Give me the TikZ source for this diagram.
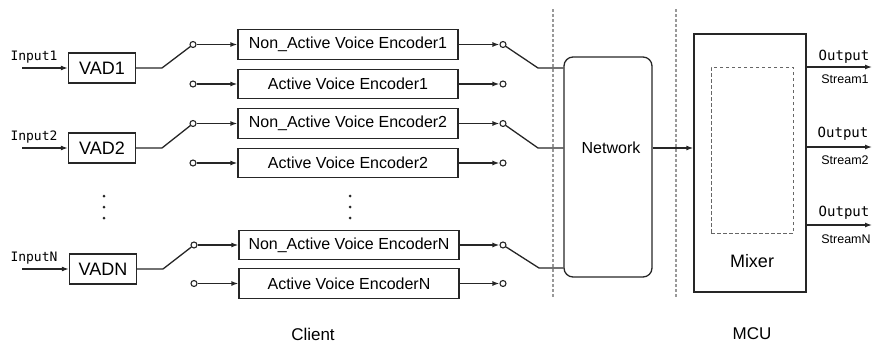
\documentclass[tikz,border=0pt]{standalone}
\usepackage{fontspec}
\setmainfont{Liberation Sans}
\newfontfamily\monofont{DejaVu Sans Mono}
\usetikzlibrary{arrows.meta,calc}

\tikzset{
  ln/.style={line width=1.3pt, draw=black!85},
  arr/.style={ln, -{Latex[length=7pt,width=5pt]}},
  vadbox/.style={ln, rectangle, minimum width=67pt, minimum height=30pt, inner sep=0pt, font=\fontsize{18}{20}\selectfont},
  encbox/.style={ln, rectangle, minimum width=220pt, minimum height=29.5pt, inner sep=0pt, font=\fontsize{16}{18}\selectfont},
  sw/.style={ln, circle, line width=1.1pt, minimum size=6pt, inner sep=0pt, fill=white},
  sep/.style={draw=black!40, line width=1.1pt, dash pattern=on 3pt off 2pt},
  inlbl/.style={inner sep=0pt, font=\monofont\fontsize{13}{14}\selectfont},
  outlbl/.style={inner sep=0pt, font=\monofont\fontsize{14}{15}\selectfont},
  strlbl/.style={inner sep=0pt, font=\fontsize{12.5}{14}\selectfont},
  dot/.style={circle, fill=black!85, minimum size=3pt, inner sep=0pt},
  captxt/.style={inner sep=0pt, font=\fontsize{17}{19}\selectfont}
}

\begin{document}
\begin{tikzpicture}[x=1pt,y=-1pt]
\useasboundingbox (0,0) rectangle (876,343);

% section separators
\draw[sep] (553,9) -- (553,297);
\draw[sep] (676,9) -- (676,297);

% VAD units with their inputs
\node[vadbox] (vad1) at (102,68) {VAD1};
\node[vadbox] (vad2) at (102,148) {VAD2};
\node[vadbox] (vadn) at (103,269) {VADN};

\coordinate (in1) at (22,68);
\coordinate (in2) at (22,148);
\coordinate (inn) at (22,269);
\draw[arr] (in1) -- (vad1.west);
\draw[arr] (in2) -- (vad2.west);
\draw[arr] (inn) -- (vadn.west);
\node[inlbl] (lin1) at (34,57) {Input1};
\node[inlbl] (lin2) at (34,137) {Input2};
\node[inlbl] (linn) at (34,258) {InputN};

% encoders
\node[encbox] (na1) at (348,44.5) {Non\_Active Voice Encoder1};
\node[encbox] (ac1) at (348,84) {Active Voice Encoder1};
\node[encbox] (na2) at (348,123.5) {Non\_Active Voice Encoder2};
\node[encbox] (ac2) at (348,163) {Active Voice Encoder2};
\node[encbox] (nan) at (349,245) {Non\_Active Voice EncoderN};
\node[encbox] (acn) at (349,283.5) {Active Voice EncoderN};

% input-side switches
\node[sw] (la1) at (193,44.5) {};
\node[sw] (lb1) at (193,84) {};
\node[sw] (la2) at (193,123.5) {};
\node[sw] (lb2) at (193,163) {};
\node[sw] (lan) at (194,245) {};
\node[sw] (lbn) at (194,283.5) {};

\coordinate (lk1) at (162,68);
\coordinate (lk2) at (162,148);
\coordinate (lkn) at (163,269);
\draw[ln] (vad1.east) -- (lk1) -- (la1);
\draw[ln] (vad2.east) -- (lk2) -- (la2);
\draw[ln] (vadn.east) -- (lkn) -- (lan);

\draw[arr] (la1) -- (na1.west);
\draw[arr] (lb1) -- (ac1.west);
\draw[arr] (la2) -- (na2.west);
\draw[arr] (lb2) -- (ac2.west);
\draw[arr] (lan) -- (nan.west);
\draw[arr] (lbn) -- (acn.west);

% ellipsis dots
\node[dot] (d1) at (104,196) {};
\node[dot] (d2) at (104,207) {};
\node[dot] (d3) at (104,218) {};
\node[dot] (e1) at (350,196) {};
\node[dot] (e2) at (350,207) {};
\node[dot] (e3) at (350,218) {};

% network
\node[ln, rectangle, rounded corners=9pt, minimum width=88pt, minimum height=220pt, inner sep=0pt] (net) at (608,167) {};
\node[inner sep=0pt, font=\fontsize{16}{18}\selectfont] (nettxt) at (611,148) {Network};

% output-side switches
\node[sw] (ra1) at (503,44.5) {};
\node[sw] (rb1) at (503,84) {};
\node[sw] (ra2) at (503,123.5) {};
\node[sw] (rb2) at (503,163) {};
\node[sw] (ran) at (503,245) {};
\node[sw] (rbn) at (503,283.5) {};

\draw[arr] (na1.east) -- (ra1);
\draw[arr] (ac1.east) -- (rb1);
\draw[arr] (na2.east) -- (ra2);
\draw[arr] (ac2.east) -- (rb2);
\draw[arr] (nan.east) -- (ran);
\draw[arr] (acn.east) -- (rbn);

\coordinate (rk1) at (538,68);
\coordinate (rk2) at (538,148);
\coordinate (rkn) at (539,268);
\draw[ln] (ra1) -- (rk1) -- (rk1 -| net.west);
\draw[ln] (ra2) -- (rk2) -- (rk2 -| net.west);
\draw[ln] (ran) -- (rkn) -- (rkn -| net.west);

% mixer
\node[ln, rectangle, minimum width=112pt, minimum height=258pt, inner sep=0pt] (mix) at (750,163) {};
\node[draw=black!60, line width=1pt, dash pattern=on 3.5pt off 2.5pt, rectangle, minimum width=82pt, minimum height=166pt, inner sep=0pt] (mixin) at (752,150) {};
\node[inner sep=0pt, font=\fontsize{18}{20}\selectfont] (mixtxt) at (752,261.5) {Mixer};

\draw[arr] (nettxt -| net.east) -- (nettxt -| mix.west);

% output streams
\coordinate (o1) at (872,67);
\coordinate (o2) at (872,147);
\coordinate (on) at (872,225);
\draw[arr] (o1 -| mix.east) -- (o1);
\draw[arr] (o2 -| mix.east) -- (o2);
\draw[arr] (on -| mix.east) -- (on);
\node[outlbl] (ol1) at (844,57) {Output};
\node[outlbl] (ol2) at (843,134) {Output};
\node[outlbl] (oln) at (844,213) {Output};
\node[strlbl] (sl1) at (845,79) {Stream1};
\node[strlbl] (sl2) at (845,160) {Stream2};
\node[strlbl] (sln) at (846,239) {StreamN};

% section captions
\node[captxt] (client) at (313,334) {Client};
\node[captxt] (mcu) at (752,334) {MCU};
\end{tikzpicture}
\end{document}
